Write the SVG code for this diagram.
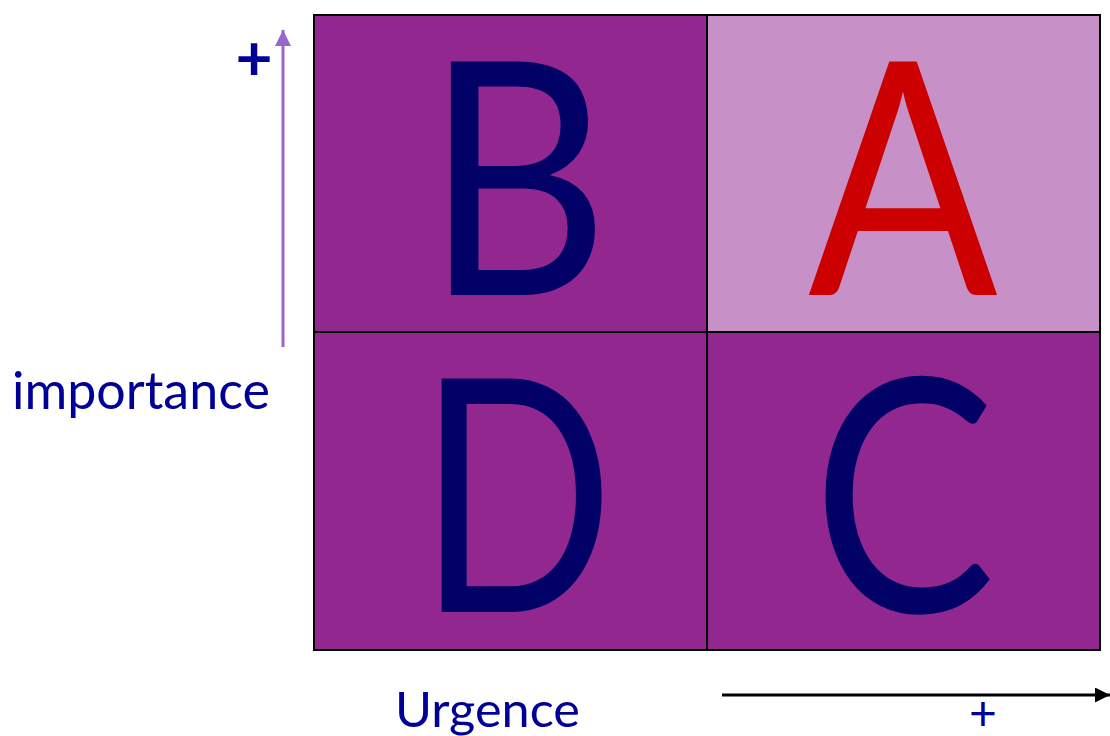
<svg xmlns="http://www.w3.org/2000/svg" width="1110" height="736" viewBox="0 0 1110 736">
<style>
.cell{stroke:#000;stroke-width:2}
.dark{fill:#92278F}
.light{fill:#C790C6}
.big{font-family:Lato,"Open Sans",sans-serif;font-size:326px;text-anchor:middle}
.navy{fill:#000066}
.lbl{font-family:Lato,"Open Sans",sans-serif;fill:#000099}
.plus{font-family:Lato,"Open Sans",sans-serif;fill:#000099;text-anchor:middle}
</style>
<defs>
<marker id="ap" markerWidth="16" markerHeight="16" refX="16" refY="8" orient="auto" markerUnits="userSpaceOnUse" viewBox="0 0 16 16"><path d="M0,0 L16,8 L0,16 z" fill="#9966CC"/></marker>
<marker id="ak" markerWidth="15" markerHeight="15" refX="15" refY="7.5" orient="auto" markerUnits="userSpaceOnUse" viewBox="0 0 15 15"><path d="M0,0 L15,7.5 L0,15 z" fill="#000"/></marker>
</defs>
<g id="cellB"><rect class="cell dark" x="314" y="15" width="393" height="317"/><text class="big navy" transform="translate(517,295) scale(0.875,1)">B</text></g>
<g id="cellA"><rect class="cell light" x="707" y="15" width="393" height="317"/><text class="big" fill="#CC0000" transform="translate(903,295) scale(0.86,1)">A</text></g>
<g id="cellD"><rect class="cell dark" x="314" y="332" width="393" height="318"/><text class="big navy" transform="translate(516,612) scale(0.79,1)">D</text></g>
<g id="cellC"><rect class="cell dark" x="707" y="332" width="393" height="318"/><text class="big navy" transform="translate(904,612) scale(0.84,1)">C</text></g>
<g id="connectors">
<line x1="283" y1="347" x2="283" y2="30" stroke="#9966CC" stroke-width="3" marker-end="url(#ap)"/>
<line x1="722" y1="695" x2="1110" y2="695" stroke="#000" stroke-width="3" marker-end="url(#ak)"/>
</g>
<g id="labels">
<text class="plus" x="254" y="80" font-size="64" font-weight="bold">+</text>
<text class="lbl" x="12" y="409" font-size="52" textLength="258" lengthAdjust="spacingAndGlyphs">importance</text>
<text class="lbl" x="395" y="727" font-size="48" textLength="185" lengthAdjust="spacingAndGlyphs">Urgence</text>
<text class="plus" x="983" y="730" font-size="48">+</text>
</g>
</svg>
